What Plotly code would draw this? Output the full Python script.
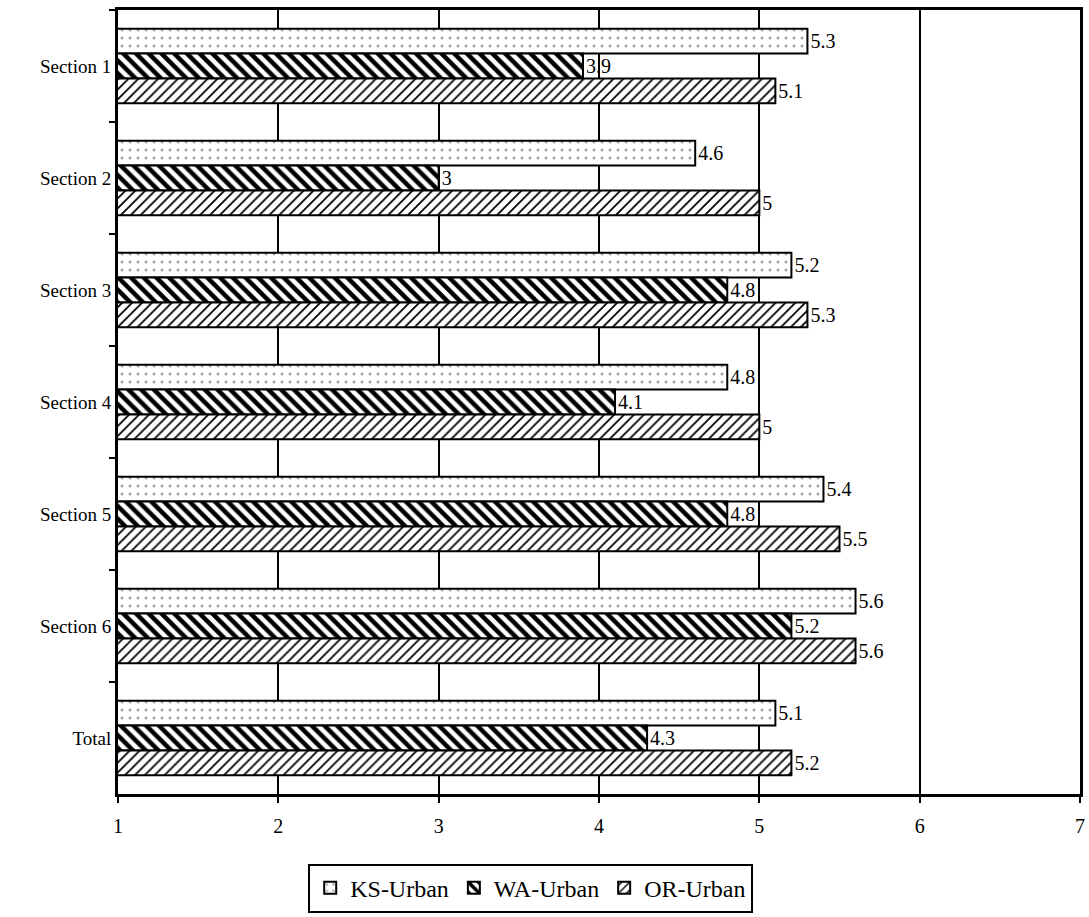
import plotly.graph_objects as go

categories = ["Section 1", "Section 2", "Section 3", "Section 4", "Section 5", "Section 6", "Total"]
ks_urban = [5.3, 4.6, 5.2, 4.8, 5.4, 5.6, 5.1]
wa_urban = [3.9, 3, 4.8, 4.1, 4.8, 5.2, 4.3]
or_urban = [5.1, 5, 5.3, 5, 5.5, 5.6, 5.2]
x_ticks = [1, 2, 3, 4, 5, 6, 7]

FONT = "Liberation Serif"

fig = go.Figure()

def add(name, vals, pattern):
    fig.add_trace(go.Bar(
        name=name, y=categories, x=vals, orientation="h",
        marker=dict(color="white", line=dict(color="black", width=2), pattern=pattern),
        text=vals, texttemplate="%{x}", textposition="outside", cliponaxis=False,
        textfont=dict(family=FONT, size=20, color="black"),
    ))

add("KS-Urban", ks_urban, dict(shape=".", fgcolor="#a0a0a0", bgcolor="white", size=8, solidity=0.1, fgopacity=1))
add("WA-Urban", wa_urban, dict(shape="\\", fgcolor="black", bgcolor="white", size=9, solidity=0.5, fgopacity=1))
add("OR-Urban", or_urban, dict(shape="/", fgcolor="black", bgcolor="white", size=7, solidity=0.25, fgopacity=1))

fig.update_layout(
    width=1089, height=917,
    margin=dict(l=118, r=4, t=10, b=118),
    paper_bgcolor="white", plot_bgcolor="white",
    barmode="group", bargap=0.335, bargroupgap=0,
    font=dict(family=FONT, color="black"),
    showlegend=True,
    legend=dict(
        orientation="h", x=0.429, xanchor="center", y=-0.0887, yanchor="top",
        bordercolor="black", borderwidth=2, bgcolor="white",
        font=dict(family=FONT, size=24, color="black"),
        itemwidth=30, traceorder="normal",
    ),
)
fig.update_xaxes(
    range=[1, 7], tickvals=x_ticks, ticktext=[str(v) for v in x_ticks],
    showgrid=True, gridcolor="black", gridwidth=2,
    showline=True, linecolor="black", linewidth=3, mirror=True,
    ticks="outside", ticklen=6, tickwidth=2, tickcolor="black", ticklabelstandoff=6,
    tickfont=dict(family=FONT, size=20, color="black"), zeroline=False,
)
fig.update_yaxes(
    autorange="reversed", type="category",
    showgrid=False, showline=True, linecolor="black", linewidth=3, mirror=True,
    ticks="outside", tickson="boundaries", ticklen=6, tickwidth=2, tickcolor="black",
    tickfont=dict(family=FONT, size=19, color="black"),
)

fig.write_html("out.html")
